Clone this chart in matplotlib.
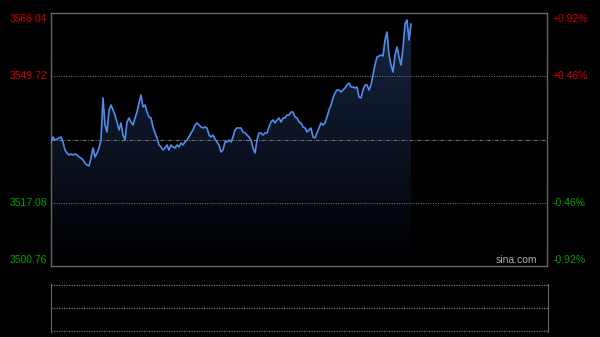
import numpy as np
import matplotlib
matplotlib.use("Agg")
import matplotlib.pyplot as plt
from matplotlib.patches import Polygon

prev_close = 3533.40
y_ticks = [3566.04, 3549.72, 3517.08, 3500.76]
y_labels = ["3566.04", "3549.72", "3517.08", "3500.76"]
pct_labels = ["+0.92%", "+0.46%", "-0.46%", "-0.92%"]

prices = [
    3532.76, 3534.05, 3533.27, 3533.53, 3533.79, 3534.05, 3532.76, 3530.69, 3529.92, 3529.40,
    3529.66, 3529.40, 3529.66, 3529.40, 3528.88, 3528.63, 3528.11, 3527.34, 3526.82, 3526.56,
    3528.63, 3531.21, 3528.88, 3529.92, 3531.21, 3533.27, 3544.11, 3537.14, 3535.34, 3541.01,
    3542.30, 3541.01, 3539.72, 3537.92, 3535.85, 3537.66, 3534.56, 3533.27, 3537.92, 3538.95,
    3537.92, 3537.14, 3538.95, 3540.50, 3542.82, 3544.88, 3541.79, 3542.30, 3540.50, 3539.21,
    3538.95, 3536.63, 3535.08, 3533.79, 3531.98, 3531.47, 3530.69, 3531.21, 3531.98, 3530.69,
    3531.98, 3531.47, 3531.21, 3531.98, 3531.47, 3532.50, 3531.98, 3532.76, 3533.27, 3534.05,
    3535.08, 3535.85, 3537.14, 3537.66, 3537.14, 3536.63, 3536.37, 3536.63, 3536.37, 3534.56,
    3534.05, 3534.56, 3533.53, 3532.76, 3531.98, 3530.18, 3530.69, 3532.76, 3532.76, 3533.27,
    3532.76, 3534.05, 3535.85, 3536.37, 3536.37, 3536.37, 3535.34, 3535.08, 3534.56, 3534.05,
    3533.27, 3531.21, 3529.92, 3533.27, 3535.08, 3535.08, 3534.56, 3535.08, 3535.08, 3536.63,
    3537.92, 3538.43, 3537.66, 3538.43, 3538.95, 3537.92, 3538.95, 3538.95, 3539.72, 3539.72,
    3540.50, 3540.50, 3539.21, 3538.95, 3537.92, 3537.66, 3536.63, 3536.37, 3535.34, 3535.85,
    3536.37, 3534.05, 3533.79, 3535.08, 3536.37, 3537.66, 3537.14, 3537.66, 3539.21, 3541.01,
    3542.30, 3544.11, 3545.40, 3546.17, 3546.17, 3545.66, 3546.17, 3546.69, 3547.46, 3547.98,
    3546.95, 3546.95, 3546.69, 3546.95, 3544.37, 3544.11, 3546.17, 3547.46, 3547.46, 3546.17,
    3547.46, 3550.04, 3552.62, 3554.69, 3554.95, 3555.20, 3554.95, 3559.07, 3561.14, 3555.20,
    3552.62, 3550.82, 3555.20, 3557.27, 3554.69, 3552.62, 3557.01, 3563.20, 3564.23, 3559.07,
    3563.20,
]

n_slots = 248
x = np.arange(len(prices))
ymin, ymax = y_ticks[-1], y_ticks[0]

fig = plt.figure(figsize=(6, 3.37), dpi=100)
fig.patch.set_facecolor("black")
plt.rcParams["font.family"] = ["Liberation Sans", "DejaVu Sans"]

border = "#666666"
grid = "#777777"

# main price panel
ax = fig.add_axes([51 / 600, 71 / 337, 496 / 600, 253 / 337])
ax.set_facecolor("black")
ax.set_xlim(0, n_slots)
ax.set_ylim(ymin, ymax)

# gradient fill under the line
grad = np.linspace(1, 0, 256).reshape(-1, 1)
top_c = np.array([0.09, 0.15, 0.26])
bot_c = np.array([0.0, 0.0, 0.01])
img = bot_c + grad[..., None] * (top_c - bot_c)
im = ax.imshow(img, extent=[0, n_slots, ymin, ymax], aspect="auto", origin="upper", zorder=1)
poly_pts = np.column_stack([np.r_[x, x[-1], x[0]], np.r_[prices, ymin, ymin]])
clip = Polygon(poly_pts, closed=True, transform=ax.transData, facecolor="none", edgecolor="none")
ax.add_patch(clip)
im.set_clip_path(clip)

for v in [y_ticks[1], y_ticks[2]]:
    ax.axhline(v, color=grid, lw=0.7, ls=(0, (1, 1.5)), zorder=2)
ax.axhline(prev_close, color=grid, lw=0.7, ls=(0, (4, 1.5, 1, 1.5)), zorder=2)

ax.plot(x, prices, color="#4f8ceb", lw=1.2, zorder=3)

ax.set_xticks([])
ax.set_yticks([])
for s in ax.spines.values():
    s.set_color(border)
    s.set_linewidth(1.0)

red, green = "#d40000", "#00a000"
offsets = [-4, 0, 0, 4]
for v, lab, pct, off in zip(y_ticks, y_labels, pct_labels, offsets):
    c = red if v > prev_close else green
    ax.annotate(lab, (0, v), xycoords=("axes fraction", "data"), xytext=(-3, off),
                textcoords="offset points", ha="right", va="center", color=c, fontsize=7.5)
    ax.annotate(pct, (1, v), xycoords=("axes fraction", "data"), xytext=(4, off),
                textcoords="offset points", ha="left", va="center", color=c, fontsize=7.5)

ax.text(0.98, 0.005, "sina.com", transform=ax.transAxes, ha="right", va="bottom",
        color="#aaaaaa", fontsize=7.5)

# lower (volume) panel, empty
ax2 = fig.add_axes([51 / 600, 5 / 337, 497 / 600, 48 / 337])
ax2.set_facecolor("black")
ax2.set_xlim(0, n_slots)
ax2.set_ylim(-0.04, 2.04)
for v in [0, 1, 2]:
    ax2.axhline(v, color=grid, lw=0.9, ls=(0, (1, 1)), zorder=2)
ax2.set_xticks([])
ax2.set_yticks([])
for k in ["top", "bottom"]:
    ax2.spines[k].set_visible(False)
for k in ["left", "right"]:
    ax2.spines[k].set_color(border)

fig.savefig("out.png", dpi=100, facecolor="black")
